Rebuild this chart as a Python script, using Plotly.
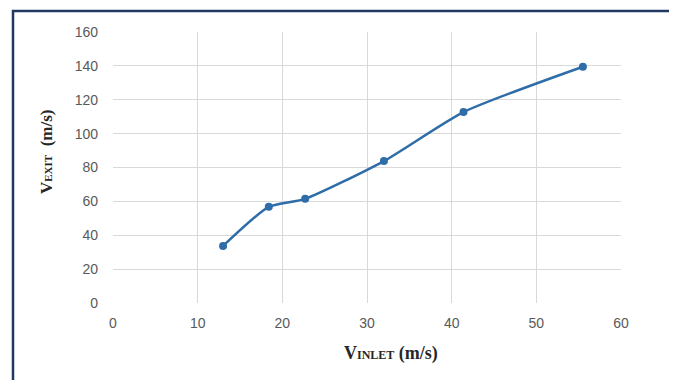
import plotly.graph_objects as go

v_inlet = [13.0, 18.4, 22.7, 32.0, 41.4, 55.5]
v_exit = [33.7, 56.8, 61.5, 83.8, 112.7, 139.5]
x_ticks = [0, 10, 20, 30, 40, 50, 60]
y_ticks = [0, 20, 40, 60, 80, 100, 120, 140, 160]

OFF = 8  # page body margin
W, H = 669, 372
# plot area in page pixels: x 113..621, y 32..303
L = 113 - OFF
T = 32 - OFF
R = W - (621 - OFF)
B = H - (303 - OFF)
pw, ph = W - L - R, H - T - B

def px(x):
    return (x - OFF - L) / pw

def py(y):
    return (H - B - (y - OFF)) / ph

fig = go.Figure()
fig.add_trace(go.Scatter(
    x=v_inlet, y=v_exit, mode="lines+markers",
    line=dict(color="#2E6DA8", width=2.5, shape="spline", smoothing=0.6),
    marker=dict(color="#2E6DA8", size=8),
    showlegend=False,
))

tick_font = dict(family="Liberation Sans, Arial, sans-serif", size=14, color="#595959")
fig.update_xaxes(range=[0, 60], tickvals=x_ticks, showgrid=True, gridcolor="#D9D9D9",
                 gridwidth=1, zeroline=False, showline=False, ticks="",
                 tickfont=tick_font, ticklabelstandoff=10, fixedrange=True)
fig.update_yaxes(range=[0, 160], tickvals=y_ticks, showgrid=True, gridcolor="#D9D9D9",
                 gridwidth=1, zeroline=False, showline=False, ticks="",
                 tickfont=tick_font, ticklabelstandoff=14, fixedrange=True)

title_font = dict(family="Liberation Serif, Times New Roman, serif", size=18, color="#262626")
fig.add_annotation(
    text="<b>V<span style='font-size:12px'>INLET</span> (m/s)</b>",
    xref="paper", yref="paper", x=px(391), y=py(353), showarrow=False,
    font=title_font, xanchor="center", yanchor="middle")
fig.add_annotation(
    text="<b>V<span style='font-size:11px'>EXIT</span>  (m/s)</b>",
    xref="paper", yref="paper", x=px(46), y=py(152), showarrow=False,
    font=dict(family="Liberation Serif, Times New Roman, serif", size=17, color="#262626"),
    xanchor="center", yanchor="middle", textangle=-90)

fig.add_shape(type="rect", xref="paper", yref="paper",
              x0=px(13), x1=px(671), y0=py(400), y1=py(11),
              line=dict(color="#1F3864", width=2.5), fillcolor="rgba(0,0,0,0)")

fig.update_layout(
    width=W, height=H,
    margin=dict(l=L, r=R, t=T, b=B),
    paper_bgcolor="white", plot_bgcolor="white",
)

fig.write_html("out.html")
